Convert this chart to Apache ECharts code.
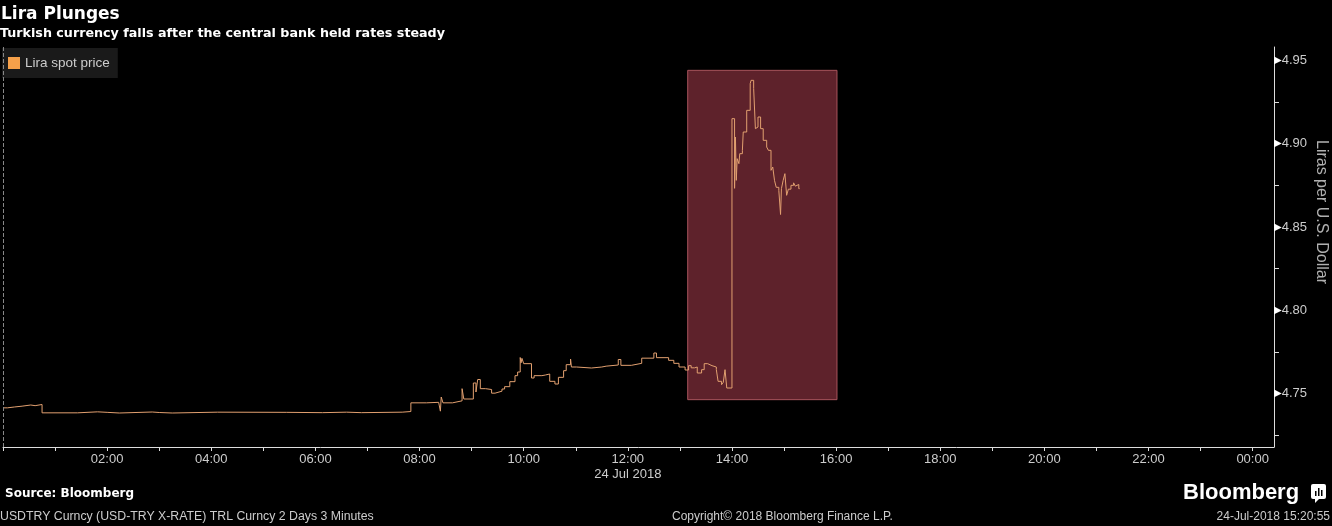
<!DOCTYPE html>
<html>
<head>
<meta charset="utf-8">
<script src="https://cdn.jsdelivr.net/npm/echarts@6/dist/echarts.min.js"></script>
<style>
  html, body { margin: 0; padding: 0; background: #000; }
  #main { width: 1332px; height: 526px; }
</style>
</head>
<body>
<div id="main"></div>
<script>
// price bars (time of change, USD/TRY level), 24 Jul 2018
var times = [
  '00:00', '00:05', '00:13', '00:22', '00:32', '00:37', '00:45', '01:26', '01:49', '02:00',
  '02:14', '02:52', '03:00', '03:15', '04:07', '05:27', '06:08', '06:36', '06:53', '07:40',
  '07:50', '08:08', '08:22', '08:24', '08:25', '08:27', '08:38', '08:49', '08:51', '09:02',
  '09:05', '09:07', '09:10', '09:16', '09:23', '09:27', '09:35', '09:38', '09:44', '09:50',
  '09:53', '09:56', '09:57', '09:58', '10:00', '10:09', '10:12', '10:21', '10:25', '10:30',
  '10:36', '10:40', '10:46', '10:49', '10:54', '10:55', '11:01', '11:18', '11:30', '11:35',
  '11:49', '11:52', '12:04', '12:16', '12:30', '12:33', '12:47', '12:53', '12:59', '13:06',
  '13:10', '13:13', '13:17', '13:20', '13:25', '13:28', '13:32', '13:37', '13:42', '13:44',
  '13:48', '13:50', '13:52', '13:54', '14:00', '14:03', '14:04', '14:05', '14:06', '14:08',
  '14:09', '14:12', '14:13', '14:17', '14:21', '14:22', '14:25', '14:27', '14:29', '14:30',
  '14:33', '14:36', '14:40', '14:42', '14:45', '14:47', '14:49', '14:51', '14:54', '14:56',
  '14:57', '14:59', '15:01', '15:03', '15:05', '15:08', '15:11', '15:13', '15:15', '15:17',
  '15:18'
];
var prices = [
  4.7415, 4.7420, 4.7425, 4.7432, 4.7428, 4.7435, 4.7385, 4.7391, 4.7388, 4.7384,
  4.7390, 4.7387, 4.7384, 4.7389, 4.7388, 4.7386, 4.7389, 4.7386, 4.7389, 4.7393,
  4.7445, 4.7448, 4.7457, 4.7395, 4.7480, 4.7445, 4.7457, 4.7530, 4.7468, 4.7564,
  4.7510, 4.7585, 4.7530, 4.7525, 4.7503, 4.7515, 4.7528, 4.7542, 4.7572, 4.7608,
  4.7630, 4.7717, 4.7685, 4.7712, 4.7680, 4.7594, 4.7608, 4.7612, 4.7618, 4.7574,
  4.7558, 4.7598, 4.7638, 4.7674, 4.7708, 4.7660, 4.7654, 4.7660, 4.7665, 4.7672,
  4.7705, 4.7670, 4.7682, 4.7713, 4.7744, 4.7716, 4.7700, 4.7682, 4.7660, 4.7642,
  4.7668, 4.7655, 4.7660, 4.7624, 4.7644, 4.7680, 4.7668, 4.7660, 4.7644, 4.7574,
  4.7554, 4.7568, 4.7644, 4.7534, 4.9150, 4.8732, 4.9040, 4.8780, 4.8910, 4.8880,
  4.8940, 4.8960, 4.9070, 4.9200, 4.9360, 4.9380, 4.9330, 4.9090, 4.9100, 4.9160,
  4.9090, 4.9020, 4.8980, 4.8960, 4.8840, 4.8860, 4.8780, 4.8738, 4.8719, 4.8575,
  4.8730, 4.8780, 4.8820, 4.8690, 4.8727, 4.8750, 4.8765, 4.8745, 4.8755, 4.8730,
  4.8730
];
var yLabels = [4.75, 4.80, 4.85, 4.90, 4.95];
var yMinorTicks = [4.725, 4.775, 4.825, 4.875, 4.925];
// highlighted window after the rate decision
var boxStart = '13:09', boxEnd = '16:01', boxLow = 4.7464, boxHigh = 4.944;

function toHours(t) {
  var p = t.split(':');
  return +p[0] + p[1] / 60;
}

var seriesData = times.map(function (t, i) { return [toHours(t), prices[i]]; });

var chart = echarts.init(document.getElementById('main'));
var grey = '#cccccc';
var option = {
  backgroundColor: '#000',
  animation: false,
  title: [
    { text: 'Lira Plunges', left: 1, top: 6, padding: 0,
      textStyle: { color: '#fff', fontFamily: 'DejaVu Sans', fontWeight: 'bold', fontSize: 17 } },
    { text: 'Turkish currency falls after the central bank held rates steady', left: 0, top: 27, padding: 0,
      textStyle: { color: '#fff', fontFamily: 'DejaVu Sans', fontWeight: 'bold', fontSize: 12.7 } },
    { text: 'Source: Bloomberg', left: 5, top: 488, padding: 0,
      textStyle: { color: '#fff', fontFamily: 'DejaVu Sans', fontWeight: 'bold', fontSize: 12 } },
    { text: 'USDTRY Curncy (USD-TRY X-RATE) TRL Curncy 2 Days 3 Minutes', left: 0, top: 511, padding: 0,
      textStyle: { color: grey, fontFamily: 'Liberation Sans', fontWeight: 'normal', fontSize: 12.3 } },
    { text: 'Copyright\u00a9 2018 Bloomberg Finance L.P.', left: 672, top: 511, padding: 0,
      textStyle: { color: grey, fontFamily: 'Liberation Sans', fontWeight: 'normal', fontSize: 12 } },
    { text: '24-Jul-2018 15:20:55', right: 2, top: 511, padding: 0,
      textStyle: { color: grey, fontFamily: 'Liberation Sans', fontWeight: 'normal', fontSize: 12 } },
    { text: 'Bloomberg', left: 1183, top: 482, padding: 0,
      textStyle: { color: '#fff', fontFamily: 'Liberation Sans', fontWeight: 'bold', fontSize: 22 } }
  ],
  legend: {
    left: 2, top: 48,
    backgroundColor: '#1a1a1a',
    padding: [8, 8, 8, 6],
    itemWidth: 12, itemHeight: 12,
    icon: 'rect',
    textStyle: { color: grey, fontFamily: 'Liberation Sans', fontSize: 13.5 },
    data: ['Lira spot price']
  },
  grid: { left: 1, right: 58, top: 47, bottom: 79 },
  xAxis: {
    type: 'value',
    min: 0, max: 24.41, interval: 1,
    axisLine: { onZero: false, lineStyle: { color: '#dddddd' } },
    axisTick: { show: true, length: 4, lineStyle: { color: '#dddddd' } },
    splitLine: { show: false },
    axisLabel: {
      color: grey, fontFamily: 'Liberation Sans', fontSize: 13, margin: 5, lineHeight: 15,
      showMaxLabel: false,
      formatter: function (v) {
        if (Math.abs(v - Math.round(v)) > 1e-6) return '';
        var h = Math.round(v);
        if (h === 0 || h % 2) return '';
        var s = String(h % 24).padStart(2, '0') + ':00';
        return h === 12 ? s + '\n24 Jul 2018' : s;
      }
    }
  },
  yAxis: {
    type: 'value',
    position: 'right',
    min: 4.718, max: 4.958,
    axisLine: { show: true, onZero: false, lineStyle: { color: '#dddddd' } },
    axisTick: { show: true, length: 5, customValues: yMinorTicks, lineStyle: { color: '#dddddd' } },
    splitLine: { show: false },
    axisLabel: {
      customValues: yLabels,
      margin: 0,
      formatter: function (v) { return '{t|\u25B6}{v|' + v.toFixed(2) + '}'; },
      rich: {
        t: { color: '#fff', fontSize: 10, fontFamily: 'DejaVu Sans' },
        v: { color: grey, fontSize: 13, fontFamily: 'Liberation Sans' }
      }
    }
  },
  graphic: [
    { type: 'text', x: 1321, y: 212, rotation: -Math.PI / 2,
      style: { text: 'Liras per U.S. Dollar', fill: '#b0b0b0', font: '16px "Liberation Sans"',
        align: 'center', verticalAlign: 'middle' } },
    { type: 'group', left: 1311, top: 484, children: [
      { type: 'rect', shape: { x: 0, y: 0, width: 15, height: 15, r: 2 }, style: { fill: '#fff' } },
      { type: 'polygon', shape: { points: [[4, 15], [8, 15], [4, 19]] }, style: { fill: '#fff' } },
      { type: 'rect', shape: { x: 4, y: 7, width: 1.5, height: 5 }, style: { fill: '#000' } },
      { type: 'rect', shape: { x: 7, y: 4, width: 1.5, height: 8 }, style: { fill: '#000' } },
      { type: 'rect', shape: { x: 10, y: 6, width: 1.5, height: 6 }, style: { fill: '#000' } }
    ] }
  ],
  series: [{
    name: 'Lira spot price',
    type: 'line',
    step: 'end',
    showSymbol: false,
    symbol: 'none',
    data: seriesData,
    itemStyle: { color: '#f5a04a' },
    lineStyle: { color: '#e2a070', width: 1 },
    z: 3,
    markArea: {
      silent: true,
      itemStyle: { color: '#5e222b', borderColor: '#a8545c', borderWidth: 1 },
      data: [[
        { coord: [toHours(boxStart), boxHigh] },
        { coord: [toHours(boxEnd), boxLow] }
      ]]
    },
    markLine: {
      silent: true,
      symbol: 'none',
      label: { show: false },
      lineStyle: { color: '#888', type: 'dashed', width: 1 },
      data: [{ xAxis: 0 }]
    }
  }]
};
chart.setOption(option);
</script>
</body>
</html>
